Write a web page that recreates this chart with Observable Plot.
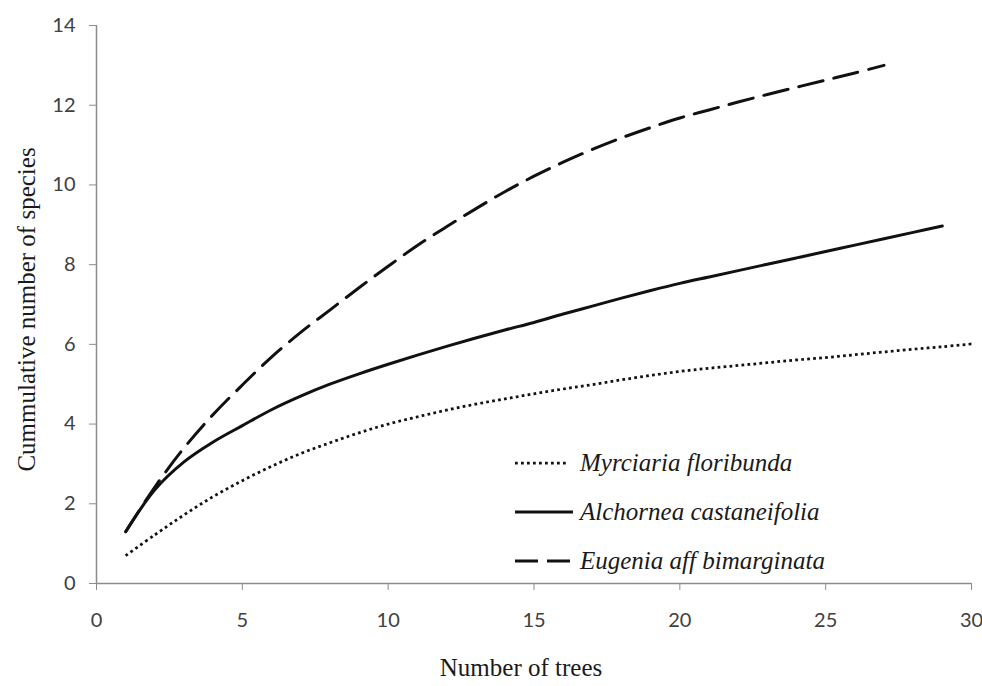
<!DOCTYPE html>
<html><head><meta charset="utf-8">
<script src="https://cdn.jsdelivr.net/npm/d3@7"></script>
<script src="https://cdn.jsdelivr.net/npm/@observablehq/plot@0.6"></script>
<style>
body{margin:0;background:#fff;}
#wrap{position:relative;width:982px;height:686px;overflow:hidden;}
.legend{position:absolute;left:515px;top:0;font-family:"Liberation Serif","Times New Roman",serif;font-style:italic;font-size:25px;color:#1a1a1a;}
.row{position:absolute;left:0;display:flex;align-items:center;height:30px;white-space:nowrap;}
.row svg{display:block;margin-right:7px;}
</style></head><body><div id="wrap"></div>
<script>
// number of trees (x)
const trees = [1,2,3,4,5,6,7,8,9,10,11,12,13,14,15,16,17,18,19,20,21,22,23,24,25,26,27,28,29,30];
// cumulative number of species per curve
const myrciaria = [0.70,1.22,1.72,2.18,2.58,2.94,3.26,3.53,3.78,4.00,4.18,4.35,4.50,4.63,4.76,4.88,4.99,5.11,5.22,5.32,5.40,5.47,5.54,5.61,5.67,5.74,5.81,5.88,5.94,6.01];
const alchornea = [1.30,2.35,3.05,3.55,3.96,4.36,4.70,5.00,5.26,5.50,5.73,5.95,6.16,6.36,6.55,6.76,6.96,7.16,7.35,7.53,7.69,7.85,8.01,8.17,8.33,8.49,8.65,8.81,8.97];
const eugenia = [1.30,2.42,3.40,4.24,4.98,5.68,6.30,6.86,7.42,7.96,8.48,8.95,9.40,9.83,10.22,10.57,10.89,11.18,11.44,11.68,11.88,12.08,12.27,12.45,12.63,12.81,13.00];
const seriesNames = ["Myrciaria floribunda","Alchornea castaneifolia","Eugenia aff bimarginata"];
const xTicks = [0,5,10,15,20,25,30];
const yTicks = [0,2,4,6,8,10,12,14];
const xTitle = "Number of trees";
const yTitle = "Cummulative number of species";

const toRows = (vals) => vals.map((v,i) => ({x: trees[i], y: v}));
const lineColor = "#111";
const axisColor = "#8c8c8c";
const serif = "Liberation Serif, Times New Roman, serif";

const chart = Plot.plot({
  width: 982, height: 686,
  marginLeft: 96, marginRight: 11, marginTop: 25, marginBottom: 103,
  style: {fontFamily: "Lato, sans-serif", background: "#fff"},
  x: {domain: [0,30]},
  y: {domain: [0,14]},
  marks: [
    Plot.ruleY([0], {stroke: axisColor, strokeWidth: 1.5}),
    Plot.ruleX([0], {stroke: axisColor, strokeWidth: 1.5}),
    Plot.axisX(xTicks, {tickSize: 7, tickPadding: 22, stroke: axisColor, fill: "#404040", fontSize: 20, label: null}),
    Plot.axisY(yTicks, {tickSize: 7, tickPadding: 14, stroke: axisColor, fill: "#404040", fontSize: 20, label: null}),
    Plot.line(toRows(myrciaria), {x: "x", y: "y", curve: "catmull-rom", stroke: lineColor, strokeWidth: 2.75, strokeDasharray: "2.75,3.25", strokeLinecap: "butt"}),
    Plot.line(toRows(alchornea), {x: "x", y: "y", curve: "catmull-rom", stroke: lineColor, strokeWidth: 3}),
    Plot.line(toRows(eugenia), {x: "x", y: "y", curve: "catmull-rom", stroke: lineColor, strokeWidth: 3, strokeDasharray: "25,11"}),
    Plot.text([xTitle], {text: d => d, frameAnchor: "bottom", textAnchor: "middle", dy: 92, dx: -13, fontSize: 25, fontFamily: serif, fill: "#1a1a1a"}),
    Plot.text([yTitle], {text: d => d, frameAnchor: "left", textAnchor: "middle", rotate: -90, dx: -70, dy: 5, fontSize: 25, fontFamily: serif, fill: "#1a1a1a"})
  ]
});
const wrap = document.getElementById("wrap");
wrap.appendChild(chart);

// legend (inside plot area)
const legendStyles = [
  {dash: "2.75,3.25", w: 53, sw: 2.75},
  {dash: null, w: 58, sw: 3},
  {dash: "23,9", w: 55, sw: 3}
];
const rowTops = [463, 512, 561];
const leg = document.createElement("div");
leg.className = "legend";
seriesNames.forEach((name, i) => {
  const row = document.createElement("div");
  row.className = "row";
  row.style.top = (rowTops[i] - 15) + "px";
  const s = legendStyles[i];
  const svg = d3.create("svg").attr("width", 58).attr("height", 8);
  svg.append("line").attr("x1", 0).attr("x2", s.w).attr("y1", 4).attr("y2", 4)
    .attr("stroke", lineColor).attr("stroke-width", s.sw)
    .attr("stroke-dasharray", s.dash);
  row.appendChild(svg.node());
  const t = document.createElement("span");
  t.textContent = name;
  row.appendChild(t);
  leg.appendChild(row);
});
wrap.appendChild(leg);
</script>
</body></html>
